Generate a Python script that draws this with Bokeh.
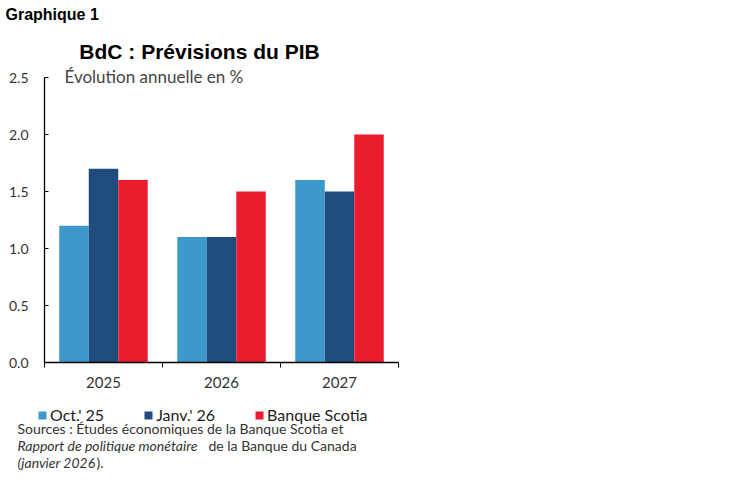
from bokeh.plotting import figure
from bokeh.layouts import column
from bokeh.models import (ColumnDataSource, Range1d, FixedTicker, PrintfTickFormatter,
                          Label, Legend, LegendItem)
from bokeh.transform import dodge
from bokeh.embed import file_html
from bokeh.resources import INLINE
import numpy as np

# Données
years = ["2025", "2026", "2027"]
oct_25 = [1.2, 1.1, 1.6]
janv_26 = [1.7, 1.1, 1.5]
scotia = [1.6, 1.5, 2.0]
series_names = ["Oct.' 25", "Janv.' 26", "Banque Scotia"]
colors = ["#3d98cc", "#1f4b7d", "#ec1c2f"]

centers = np.arange(len(years)) + 0.5
source = ColumnDataSource(data=dict(x=centers, oct=oct_25, janv=janv_26, scotia=scotia))

W = 740
HEAD_H, MAIN_H, FOOT_H = 36, 360, 79


def blank(h):
    # bandeau sans axes dont le cadre couvre toute la surface
    f = figure(width=W, height=h, output_backend="svg", toolbar_location=None,
               x_axis_type=None, y_axis_type=None, min_border=0, frame_align=False,
               x_range=Range1d(0, 1), y_range=Range1d(0, 1))
    f.outline_line_color = None
    f.xgrid.grid_line_color = None
    f.ygrid.grid_line_color = None
    return f


def lab(f, text, x, y, size, font="Lato", style="normal", color="#333333", align="left"):
    f.add_layout(Label(x=x, y=y, x_units="screen", y_units="screen", text=text,
                       text_font=font, text_font_size=size, text_font_style=style,
                       text_color=color, text_align=align, text_baseline="alphabetic"))


# --- en-tête
head = blank(HEAD_H)
lab(head, "Graphique 1", 5, HEAD_H - 14, "16px", font="Liberation Sans", style="bold", color="black")

# --- graphique principal
frame_top, frame_bottom = HEAD_H, 362
px_per_unit = (frame_bottom - 77) / 2.5
p = figure(width=W, height=MAIN_H, output_backend="svg", toolbar_location=None,
           x_range=Range1d(0, len(years)),
           y_range=Range1d(0, (frame_bottom - frame_top) / px_per_unit),
           min_border_left=44, min_border_right=W - 398, min_border_top=0,
           min_border_bottom=MAIN_H - (frame_bottom - frame_top), frame_align=False)
p.outline_line_color = None
p.xgrid.grid_line_color = None
p.ygrid.grid_line_color = None

bar_cols = ["oct", "janv", "scotia"]
for col, off, c in zip(bar_cols, [-0.25, 0.0, 0.25], colors):
    p.vbar(x=dodge("x", off), top=col, width=0.25, source=source,
           fill_color=c, line_color=None)

# axe x : libellés au centre, petits traits aux limites des catégories
xa = p.xaxis[0]
xa.ticker = FixedTicker(ticks=list(centers), minor_ticks=list(range(len(years) + 1)))
xa.major_label_overrides = {float(c): y for c, y in zip(centers, years)}
xa.major_tick_in = 0
xa.major_tick_out = 0
xa.minor_tick_in = 0
xa.minor_tick_out = 5
xa.minor_tick_line_color = "black"
xa.axis_line_color = "black"
xa.axis_line_width = 1.3
xa.major_label_text_font = "Lato"
xa.major_label_text_font_size = "15px"
xa.major_label_text_color = "#333333"
xa.major_label_standoff = 9

ya = p.yaxis[0]
ya.ticker = FixedTicker(ticks=[0, 0.5, 1.0, 1.5, 2.0, 2.5])
ya.formatter = PrintfTickFormatter(format="%.1f")
ya.bounds = (0, 2.5)
ya.major_tick_in = 4
ya.major_tick_out = 0
ya.minor_tick_line_color = None
ya.axis_line_color = "black"
ya.axis_line_width = 1.3
ya.major_label_text_font = "Lato"
ya.major_label_text_font_size = "14px"
ya.major_label_text_color = "#333333"
ya.major_label_standoff = 16

# titre et sous-titre, positionnés depuis le bas-gauche du cadre
lab(p, "BdC : Prévisions du PIB", 155, frame_bottom - 51, "21px", font="Liberation Sans",
    style="bold", color="black", align="center")
lab(p, "Évolution annuelle en %", 20, frame_bottom - 76, "17px", color="#444444")

# --- pied : légende et sources
foot = blank(FOOT_H)
proxies = [foot.vbar(x="x", top=col, width=0.25, source=source, fill_color=c,
                     line_color=None, visible=False) for col, c in zip(bar_cols, colors)]
legend = Legend(items=[LegendItem(label=n, renderers=[r]) for n, r in zip(series_names, proxies)],
                orientation="horizontal", location=(37, FOOT_H - 28),
                glyph_width=10, glyph_height=10, label_standoff=3, spacing=39,
                label_height=18, padding=0, margin=0, border_line_color=None,
                background_fill_alpha=0, label_text_font="Lato",
                label_text_font_size="16px", label_text_color="#222222")
foot.add_layout(legend, "center")

lab(foot, "Sources : Études économiques de la Banque Scotia et", 17, FOOT_H - 32, "14px")
lab(foot, "Rapport de politique monétaire", 17, FOOT_H - 49, "14px", style="italic")
lab(foot, "de la Banque du Canada", 208, FOOT_H - 49, "14px")
lab(foot, "(janvier 2026", 17, FOOT_H - 66, "14px", style="italic")
lab(foot, ").", 96, FOOT_H - 66, "14px")

page = column(head, p, foot, spacing=0)
open("out.html", "w").write(file_html(page, INLINE))
